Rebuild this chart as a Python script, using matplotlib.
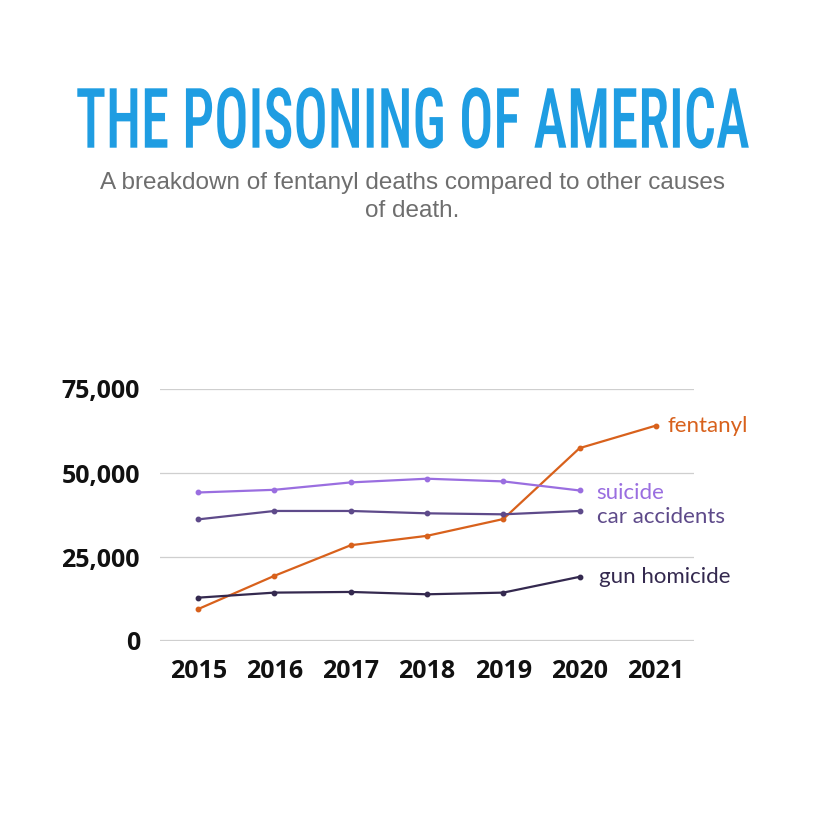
import matplotlib
matplotlib.use("Agg")
import matplotlib.pyplot as plt
from matplotlib import font_manager as fm
from matplotlib.patheffects import AbstractPathEffect
from matplotlib.transforms import Affine2D
from matplotlib.textpath import TextPath
from matplotlib.font_manager import FontProperties

# ---------------- data ----------------
years = [2015, 2016, 2017, 2018, 2019, 2020, 2021]
fentanyl = [9500, 19400, 28500, 31300, 36300, 57400, 64100]
suicide = [44200, 45000, 47200, 48300, 47500, 44800]
car_accidents = [36200, 38700, 38700, 38000, 37700, 38700]
gun_homicide = [12900, 14400, 14600, 13900, 14400, 19100]
y_ticks = [0, 25000, 50000, 75000]
y_tick_labels = ["0", "25,000", "50,000", "75,000"]
title = "THE POISONING OF AMERICA"
subtitle_1 = "A breakdown of fentanyl deaths compared to other causes"
subtitle_2 = "of death."

W = H = 825
DPI = 100
fig = plt.figure(figsize=(W / DPI, H / DPI), dpi=DPI)
fig.patch.set_facecolor("white")

C_TITLE = "#1f9de2"
C_SUB = "#6e6e6e"
C_FENT = "#d8611c"
C_SUIC = "#9a6ee0"
C_CAR = "#5e4a8a"
C_GUN = "#34294f"


class VStretch(AbstractPathEffect):
    def __init__(self, sy, y0):
        super().__init__()
        self.sy = sy
        self.y0 = y0

    def draw_path(self, renderer, gc, tpath, affine, rgbFace=None):
        t = affine + Affine2D().translate(0, -self.y0).scale(1, self.sy).translate(0, self.y0)
        renderer.draw_path(gc, tpath, t, rgbFace)


# choose a narrow bold font if available
names = {f.name for f in fm.fontManager.ttflist}
title_family = "Roboto"
for cand in ["Roboto Condensed", "Liberation Sans Narrow", "Open Sans Condensed"]:
    if cand in names:
        title_family = cand
        break

tp = FontProperties(family=title_family, weight=500)
base_y = H - 147.7
target_w = 673.0
tt = fig.text(0.5, base_y / H, title, ha="center", va="baseline",
              fontproperties=tp, fontsize=40, color=C_TITLE)
r = fig.canvas.get_renderer()
w0 = tt.get_window_extent(r).width
fs = 40 * target_w / w0
tt.set_fontsize(fs)
cap = TextPath((0, 0), "H", size=1, prop=tp).get_extents().height
cap_px = cap * fs * DPI / 72.0
sy = 59.4 / cap_px
tt.set_path_effects([VStretch(sy, base_y)])

# subtitle
fig.text(0.5, (H - 189.0) / H, subtitle_1, ha="center", va="baseline",
         family="Liberation Sans", fontsize=17.5, color=C_SUB)
fig.text(0.5, (H - 217.3) / H, subtitle_2, ha="center", va="baseline",
         family="Liberation Sans", fontsize=17.5, color=C_SUB)

# axes
ax = fig.add_axes([160 / W, (H - 641) / H, (694 - 160) / W, (641 - 389) / H])
ax.set_facecolor("white")
for s in ax.spines.values():
    s.set_visible(False)
ax.set_xlim(2014.5, 2021.5)
ax.set_ylim(0, 75000)
ax.set_yticks(y_ticks)
ax.set_yticklabels(y_tick_labels)
ax.set_xticks(years)
ax.set_xticklabels([str(y) for y in years])
for v in y_ticks:
    ax.axhline(v, color="#cfcfcf", lw=1.6 if v == 0 else 0.9, zorder=0)
ax.tick_params(axis="both", length=0, labelsize=18)
ax.tick_params(axis="y", pad=14.4)
ax.tick_params(axis="x", pad=13)
for lab in ax.get_xticklabels() + ax.get_yticklabels():
    lab.set_family("Open Sans")
    lab.set_fontweight("bold")
    lab.set_color("#111111")

series = [
    (years, fentanyl, C_FENT, "fentanyl", 12, 0),
    (years[:6], suicide, C_SUIC, "suicide", 17, -3),
    (years[:6], car_accidents, C_CAR, "car accidents", 17, -6),
    (years[:6], gun_homicide, C_GUN, "gun homicide", 19, 0),
]
for xs, ys, c, name, dx, dy in series:
    ax.plot(xs, ys, color=c, lw=1.6, marker="o", markersize=3.2, clip_on=False, zorder=3)
    ax.annotate(name, (xs[-1], ys[-1]), xytext=(dx, dy), textcoords="offset pixels",
                ha="left", va="center", family="Lato", fontweight="normal", fontsize=16,
                color=c, annotation_clip=False)

fig.savefig("out.png", dpi=DPI, facecolor="white")
